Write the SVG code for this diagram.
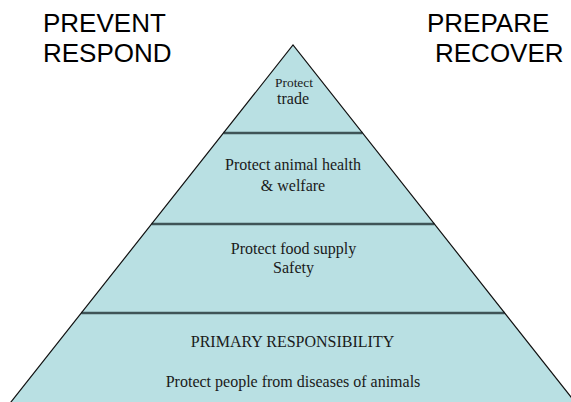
<svg xmlns="http://www.w3.org/2000/svg" width="571" height="402" viewBox="0 0 571 402">
<style>
.tier{fill:#b9e0e3;stroke:none}
.div{stroke:#3f5457;stroke-width:2.5}
.edge{fill:none;stroke:#111;stroke-width:1.2}
.t{font-family:"Liberation Serif","Times New Roman",serif;fill:#1a1a1a;text-anchor:middle}
.h{font-family:"Liberation Sans",Arial,sans-serif;font-size:26px;fill:#000}
</style>
<rect width="571" height="402" fill="#fff"/>
<g id="header-left">
<text class="h" x="43" y="32">PREVENT</text>
<text class="h" x="43" y="62">RESPOND</text>
</g>
<g id="header-right">
<text class="h" x="427" y="32">PREPARE</text>
<text class="h" x="435" y="62">RECOVER</text>
</g>
<g id="tier-trade">
<polygon class="tier" points="293,45 362.5,133 223.5,133"/>
<text class="t" x="294" y="87" font-size="13.4">Protect</text>
<text class="t" x="293" y="104" font-size="16">trade</text>
</g>
<g id="tier-animal">
<polygon class="tier" points="223.5,133 362.5,133 434.4,224 151.6,224"/>
<text class="t" x="293" y="170" font-size="16">Protect animal health</text>
<text class="t" x="293" y="191" font-size="16">&amp; welfare</text>
</g>
<g id="tier-food">
<polygon class="tier" points="151.6,224 434.4,224 504.7,313 81.3,313"/>
<text class="t" x="293.5" y="254" font-size="16">Protect food supply</text>
<text class="t" x="293.5" y="273" font-size="16">Safety</text>
</g>
<g id="tier-people">
<polygon class="tier" points="81.3,313 504.7,313 576.6,404 9.4,404"/>
<text class="t" x="292.5" y="347" font-size="16">PRIMARY RESPONSIBILITY</text>
<text class="t" x="293" y="387" font-size="16">Protect people from diseases of animals</text>
</g>
<g id="connectors">
<line class="div" x1="223.5" y1="133" x2="362.5" y2="133"/>
<line class="div" x1="151.6" y1="224" x2="434.4" y2="224"/>
<line class="div" x1="81.3" y1="313" x2="504.7" y2="313"/>
<polyline class="edge" points="9.4,404 293,45 576.6,404"/>
</g>
</svg>
